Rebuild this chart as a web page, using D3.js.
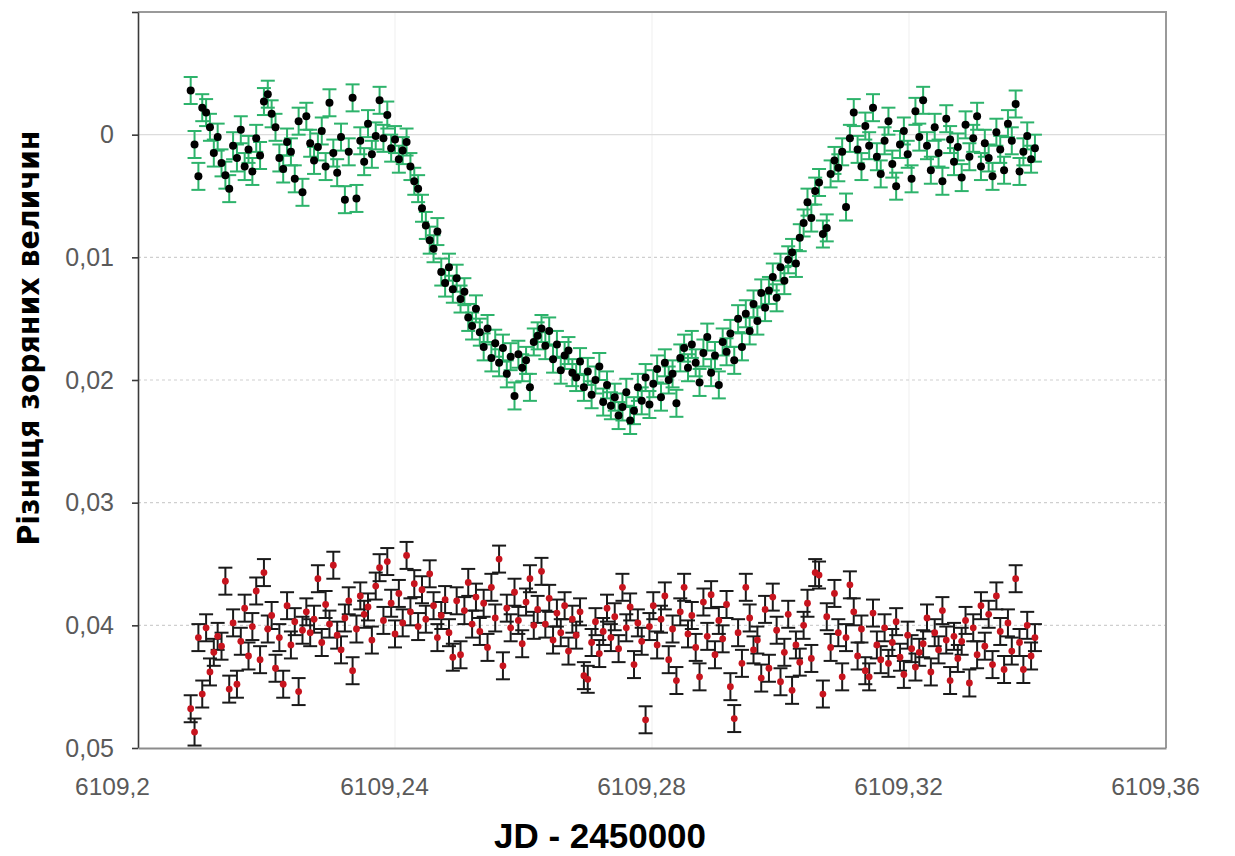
<!DOCTYPE html>
<html lang="en">
<head>
<meta charset="UTF-8">
<title>Transit light curve</title>
<script src="https://d3js.org/d3.v7.min.js"></script>
<style>
  body { margin: 0; background: #fff; }
  svg { display: block; }
</style>
</head>
<body>
<div id="chart"></div>
<script>
// JD - 2450000 = JD_DAY + fraction
const JD_DAY = 6109;
const times = [
  .2082,.2088,.2094,.2100,.2106,.2112,.2118,.2124,.2130,.2136,
  .2142,.2148,.2154,.2160,.2166,.2172,.2178,.2184,.2190,.2196,
  .2202,.2208,.2214,.2220,.2226,.2232,.2238,.2244,.2250,.2256,
  .2262,.2268,.2274,.2280,.2286,.2292,.2298,.2304,.2310,.2316,
  .2322,.2328,.2334,.2340,.2346,.2352,.2358,.2364,.2370,.2376,
  .2382,.2388,.2394,.2400,.2406,.2412,.2418,.2424,.2430,.2436,
  .2442,.2448,.2454,.2460,.2466,.2472,.2478,.2484,.2490,.2496,
  .2502,.2508,.2514,.2520,.2526,.2532,.2538,.2544,.2550,.2556,
  .2562,.2568,.2574,.2580,.2586,.2592,.2598,.2604,.2610,.2616,
  .2622,.2628,.2634,.2640,.2646,.2652,.2658,.2664,.2670,.2676,
  .2682,.2688,.2694,.2700,.2706,.2712,.2718,.2724,.2730,.2736,
  .2742,.2748,.2754,.2760,.2766,.2772,.2778,.2784,.2790,.2796,
  .2802,.2808,.2814,.2820,.2826,.2832,.2838,.2844,.2850,.2856,
  .2862,.2868,.2874,.2880,.2886,.2892,.2898,.2904,.2910,.2916,
  .2922,.2928,.2934,.2940,.2946,.2952,.2958,.2964,.2970,.2976,
  .2982,.2988,.2994,.3000,.3006,.3012,.3018,.3024,.3030,.3036,
  .3042,.3048,.3054,.3060,.3066,.3072,.3078,.3084,.3090,.3096,
  .3102,.3108,.3114,.3120,.3126,.3132,.3138,.3144,.3150,.3156,
  .3162,.3168,.3174,.3180,.3186,.3192,.3198,.3204,.3210,.3216,
  .3222,.3228,.3234,.3240,.3246,.3252,.3258,.3264,.3270,.3276,
  .3282,.3288,.3294,.3300,.3306,.3312,.3318,.3324,.3330,.3336,
  .3342,.3348,.3354,.3360,.3366,.3372,.3378,.3384,.3390,.3396
];

// variable minus comparison, millimag
const varMinusComp = [
  -3.6, 0.8, 3.4,-2.2,-1.8,-0.6, 1.5, 0.2, 2.3, 3.3,
   4.4, 0.9, 1.9,-0.4, 2.6, 1.2, 3.0, 0.3, 1.7,-2.7,
  -3.3,-1.7,-0.6, 1.9, 2.8, 0.6, 1.4, 3.6,-1.1, 4.7,
  -1.5, 0.7, 2.1, 1.0,-0.3, 2.6,-2.6, 1.5, 3.1, 0.2,
   5.3, 1.4,-3.0, 5.2, 0.5, 2.2,-0.9, 1.6, 0.1,-2.8,
   0.3,-1.6, 1.1, 0.4, 2.0, 1.3, 0.6, 2.6, 3.8, 4.4,
   6.0, 7.4, 8.6, 9.3, 7.9,11.2,12.1,10.8,12.6,11.7,
  13.4,12.8,14.9,15.6,14.2,16.1,17.3,15.8,18.2,17.0,
  18.6,17.4,19.5,18.1,21.3,17.9,19.0,18.4,20.6,16.9,
  16.4,15.8,17.2,16.0,18.3,17.1,19.2,18.0,17.6,19.4,
  19.8,18.5,20.6,19.3,21.2,20.0,18.9,21.8,20.4,22.1,
  21.4,22.9,22.2,21.0,23.3,22.5,20.6,21.7,19.8,22.0,
  20.3,19.1,21.4,18.6,20.0,19.5,21.9,18.2,17.4,19.0,
  17.1,18.6,20.2,17.8,16.5,19.4,18.0,20.4,16.9,17.7,
  16.2,18.4,15.0,17.3,14.6,16.0,13.8,15.2,12.9,14.1,
  12.7,11.6,13.3,10.8,11.9,10.2, 9.6,10.5, 8.4, 7.2,
   5.5, 6.8, 4.6, 3.9, 8.1, 7.6, 3.2, 2.1, 2.7, 1.4,
   5.9, 0.3,-1.8, 1.2, 2.6,-0.7, 0.9,-2.2, 1.8, 3.2,
   0.5,-1.1, 2.4, 4.2, 0.8,-0.3, 1.6, 3.6,-1.9, 0.2,
  -2.8, 0.9, 2.9,-0.6, 1.5, 3.8,-1.3, 0.4, 2.2, 1.0,
   3.5,-0.8, 1.8, 0.3,-1.5, 2.6, 0.7, 1.9, 3.4,-0.2,
   1.2, 2.9,-0.9, 0.5,-2.5, 3.0, 1.4, 0.1, 2.0, 1.1
];

// check star minus comparison, millimag
const checkMinusComp = [
  46.8,48.7,41.0,45.6,40.2,43.8,42.2,40.9,41.7,36.4,
  45.2,39.8,44.8,41.3,38.6,42.5,40.1,37.2,42.8,35.7,
  40.3,39.2,43.5,41.0,44.8,38.4,41.6,39.7,45.4,40.4,
  38.9,40.6,39.5,36.2,41.4,38.3,39.9,35.1,40.8,42.0,
  39.4,38.0,43.7,40.3,37.6,39.1,38.5,41.2,36.8,35.3,
  39.6,34.8,38.2,40.7,37.4,39.8,34.3,38.9,36.6,40.1,
  37.1,39.5,35.8,38.4,41.0,39.2,37.9,40.6,42.6,38.0,
  42.4,38.8,36.5,39.9,37.7,40.5,38.2,41.8,36.9,39.4,
  34.6,43.3,38.6,40.2,37.3,39.6,41.5,38.1,36.2,40.0,
  38.7,35.6,39.9,37.8,41.2,39.0,40.6,38.4,42.1,39.5,
  40.8,38.9,44.1,44.4,41.4,39.7,42.3,40.5,38.6,41.0,
  39.3,41.9,36.9,40.2,38.5,43.2,39.8,41.3,47.7,40.1,
  38.4,41.6,39.5,37.6,42.8,40.3,44.5,38.9,36.9,40.7,
  39.2,41.8,44.2,38.1,40.9,37.5,42.4,39.6,41.1,38.3,
  45.0,47.6,40.6,43.1,36.9,39.4,42.0,41.2,44.3,38.7,
  43.5,37.7,40.4,44.6,42.2,39.1,45.3,41.6,43.0,40.0,
  38.2,42.7,35.7,35.9,45.6,39.3,41.8,37.4,40.6,44.2,
  41.0,36.7,38.9,42.5,40.3,43.7,44.2,39.0,41.6,42.8,
  40.2,43.1,41.4,39.7,42.6,44.0,40.8,41.9,43.4,42.2,
  41.5,39.4,43.8,40.6,42.0,38.8,41.2,44.5,40.9,42.7,
  41.3,39.6,44.7,40.2,42.4,38.4,41.7,39.1,43.2,37.6,
  40.5,43.6,39.8,42.1,36.2,41.4,43.6,40.0,42.5,41.0
];

const errVar = 1.1;    // millimag
const errCheck = 1.1;

const xTicks = [6109.2, 6109.24, 6109.28, 6109.32, 6109.36];
const xTickLabels = ['6109,2', '6109,24', '6109,28', '6109,32', '6109,36'];
const yTicks = [-10, 0, 10, 20, 30, 40, 50];
const yTickLabels = ['', '0', '0,01', '0,02', '0,03', '0,04', '0,05'];

const xTitle = 'JD - 2450000';
const yTitle = 'Різниця зоряних величин';

const W = 1235, H = 856;
const m = { left: 138, right: 69, top: 12, bottom: 108 };

const svg = d3.select('#chart').append('svg')
    .attr('width', W)
    .attr('height', H);

const x = d3.scaleLinear()
    .domain([6109.2, 6109.36])
    .range([m.left, W - m.right]);

const y = d3.scaleLinear()
    .domain([-10, 50])
    .range([m.top, H - m.bottom]);

const font = '"Liberation Sans", Arial, sans-serif';

// vertical gridlines (very faint)
svg.append('g')
    .selectAll('line')
    .data(xTicks.slice(1, -1))
    .enter()
    .append('line')
    .attr('x1', d => x(d))
    .attr('x2', d => x(d))
    .attr('y1', m.top)
    .attr('y2', H - m.bottom)
    .attr('stroke', '#efefef')
    .attr('stroke-width', 1);

// horizontal gridlines
svg.append('g')
    .selectAll('line')
    .data(yTicks.slice(1, -1))
    .enter()
    .append('line')
    .attr('x1', m.left)
    .attr('x2', W - m.right)
    .attr('y1', d => y(d))
    .attr('y2', d => y(d))
    .attr('stroke', d => d === 0 ? '#dcdcdc' : '#cfcfcf')
    .attr('stroke-width', 1.2)
    .attr('stroke-dasharray', d => d === 0 ? null : '3,3');

// top and right border
svg.append('path')
    .attr('d', `M${m.left},${m.top}H${W - m.right}V${H - m.bottom}`)
    .attr('fill', 'none')
    .attr('stroke', '#9a9a9a')
    .attr('stroke-width', 2);

// series with error bars
function drawSeries(values, err, barColor, dotColor, r) {
    const data = times.map((t, i) => ({ t: JD_DAY + t, v: values[i] }));
    const g = svg.append('g');
    const cap = 7;

    const bars = g.selectAll('g.bar')
        .data(data)
        .enter()
        .append('g')
        .attr('class', 'bar')
        .attr('stroke', barColor)
        .attr('stroke-width', 2);
    bars.append('line')
        .attr('x1', d => x(d.t)).attr('x2', d => x(d.t))
        .attr('y1', d => y(d.v - err)).attr('y2', d => y(d.v + err));
    bars.append('line')
        .attr('x1', d => x(d.t) - cap).attr('x2', d => x(d.t) + cap)
        .attr('y1', d => y(d.v - err)).attr('y2', d => y(d.v - err));
    bars.append('line')
        .attr('x1', d => x(d.t) - cap).attr('x2', d => x(d.t) + cap)
        .attr('y1', d => y(d.v + err)).attr('y2', d => y(d.v + err));

    g.selectAll('circle')
        .data(data)
        .enter()
        .append('circle')
        .attr('cx', d => x(d.t))
        .attr('cy', d => y(d.v))
        .attr('r', r)
        .attr('fill', dotColor);
}

drawSeries(varMinusComp, errVar, '#2db36b', '#000', 4);
drawSeries(checkMinusComp, errCheck, '#1a1a1a', '#c8141e', 3.4);

// y axis
const yAxis = svg.append('g')
    .attr('transform', `translate(${m.left},0)`)
    .call(d3.axisLeft(y)
        .tickValues(yTicks)
        .tickSize(6)
        .tickSizeOuter(0)
        .tickPadding(18)
        .tickFormat((d, i) => yTickLabels[i]));
yAxis.select('.domain').attr('stroke', '#3a3a3a').attr('stroke-width', 1.6);
yAxis.selectAll('.tick line').attr('stroke', '#3a3a3a').attr('stroke-width', 1.6);
yAxis.selectAll('.tick text')
    .attr('fill', '#5a5a5a')
    .attr('font-size', '25px')
    .attr('font-family', font);

// x axis
const xAxis = svg.append('g')
    .attr('transform', `translate(0,${H - m.bottom})`)
    .call(d3.axisBottom(x)
        .tickValues(xTicks)
        .tickSize(0)
        .tickPadding(30)
        .tickFormat((d, i) => xTickLabels[i]));
xAxis.select('.domain').attr('stroke', '#8c8c8c').attr('stroke-width', 2);
xAxis.selectAll('.tick text')
    .attr('dx', (d, i) => i === 0 ? -26 : -11)
    .attr('fill', '#5a5a5a')
    .attr('font-size', '24.5px')
    .attr('font-family', font);

// axis titles
svg.append('text')
    .attr('x', 600)
    .attr('y', 848)
    .attr('text-anchor', 'middle')
    .attr('font-family', font)
    .attr('font-weight', 'bold')
    .attr('font-size', '35px')
    .attr('fill', '#000')
    .text(xTitle);

svg.append('text')
    .attr('transform', 'translate(39,338) rotate(-90)')
    .attr('text-anchor', 'middle')
    .attr('font-family', '"Liberation Sans Narrow", "DejaVu Sans Condensed", "Liberation Sans", sans-serif')
    .attr('font-weight', 'bold')
    .attr('font-size', '31px')
    .attr('textLength', 415)
    .attr('lengthAdjust', 'spacingAndGlyphs')
    .attr('fill', '#000')
    .text(yTitle);
</script>
</body>
</html>
